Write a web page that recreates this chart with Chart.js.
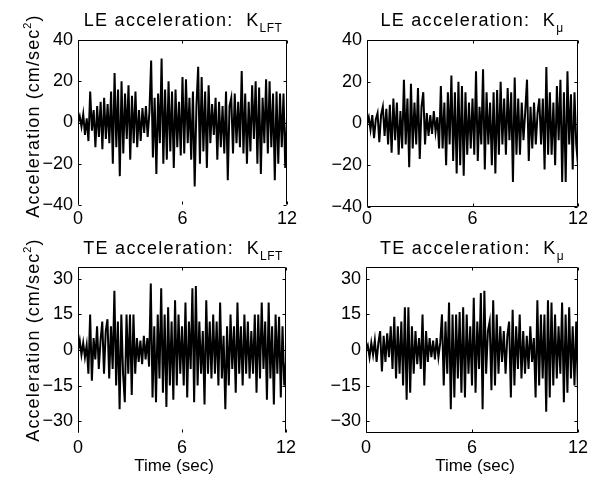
<!DOCTYPE html>
<html>
<head>
<meta charset="utf-8">
<script src="https://cdn.jsdelivr.net/npm/chart.js@4.4.0/dist/chart.umd.min.js"></script>
<style>
  body { margin: 0; background: #fff; }
  #wrap { position: relative; width: 602px; height: 478px; overflow: hidden;
          font-family: "Liberation Sans", Arial, Helvetica, sans-serif; color: #000; }
  canvas { position: absolute; }
  .ttl { position: absolute; font-size: 18px; letter-spacing: 1.3px; line-height: 20px; white-space: nowrap; transform: translateX(-50%); }
  .ttl sub { font-size: 12px; letter-spacing: 0.5px; vertical-align: -6px; line-height: 0; }
  .ylab { position: absolute; font-size: 18px; letter-spacing: 1.1px; line-height: 20px; white-space: nowrap;
          transform: translate(-50%, -50%) rotate(-90deg); }
  .ylab sup { font-size: 11px; vertical-align: 8px; line-height: 0; }
  .xlab { position: absolute; font-size: 17px; line-height: 20px; white-space: nowrap; transform: translate(-50%, -50%); }
</style>
</head>
<body>
<div id="wrap">
  <canvas id="cLeLft" width="300" height="236" style="left:0;top:0"></canvas>
  <canvas id="cLeMu" width="302" height="236" style="left:300px;top:0"></canvas>
  <canvas id="cTeLft" width="300" height="242" style="left:0;top:236px"></canvas>
  <canvas id="cTeMu" width="302" height="242" style="left:300px;top:236px"></canvas>

  <div class="ttl" style="left:183px;top:10px">LE acceleration:&nbsp; K<sub>LFT</sub></div>
  <div class="ttl" style="left:472px;top:10px">LE acceleration:&nbsp; K<sub>μ</sub></div>
  <div class="ttl" style="left:183px;top:238px">TE acceleration:&nbsp; K<sub>LFT</sub></div>
  <div class="ttl" style="left:472px;top:238px">TE acceleration:&nbsp; K<sub>μ</sub></div>

  <div class="ylab" style="left:33px;top:116px">Acceleration (cm/sec<sup>2</sup>)</div>
  <div class="ylab" style="left:33px;top:340px">Acceleration (cm/sec<sup>2</sup>)</div>

  <div class="xlab" style="left:174px;top:466px">Time (sec)</div>
  <div class="xlab" style="left:475px;top:466px">Time (sec)</div>
</div>
<script>
// ---- data: acceleration samples, one every 0.1 s from 0 to 12 s ----
const sampleStep = 0.1;
const xTicks = [0, 6, 12];
const yTicksLE = [-40, -20, 0, 20, 40];
const yTicksTE = [-30, -15, 0, 15, 30];

const leLft = [
  0, 3, -2, 4, -6, 2, -9, 15, -4, 6,
  -12, 8, -7, 10, -13, 12, -8, 9, -10, 15,
  -20, 24, -12, 16, -26, 20, -15, 14, -8, 18,
  -18, 13, -10, 15, -12, 6, -9, 7, -5, 8,
  -7, 5, 30, -17, 12, -25, 14, -10, 31, -20,
  16, -18, 20, -14, 15, -22, 16, -12, 10, -16,
  22, -15, 21, -10, 12, -18, 15, -31, 8, 27,
  -20, 22, -14, 15, -22, 18, -10, 9, -6, 12,
  -18, 10, -12, 8, -15, 15, -28, 8, 12, -15,
  14, -10, 10, -12, 25, -15, 14, -20, 10, -14,
  18, -8, 20, -20, 17, -25, 12, -10, 21, -15,
  20, -12, 14, -28, 15, -20, 14, -12, 14, -22,
  2
];
const leMu = [
  0, 3, -3, 4, -7, 2, 5, -9, 4, 8,
  -6, 7, -10, 9, -14, 12, -8, 10, -15, 6,
  -12, 21, -10, 12, -21, 19, -12, 10, -10, 17,
  -17, 8, 15, -10, 5, -6, 4, -5, 6, -4,
  3, -12, 18, -12, 10, -20, 15, -10, 23, -18,
  15, -24, 20, -20, 18, -25, 15, -15, 10, -12,
  12, -15, 25, -18, 8, -10, 26, -22, 15, -10,
  10, -20, 15, -24, 16, -15, 20, -10, 12, -15,
  17, -8, 15, -28, 22, -15, 12, -15, 10, -8,
  6, 21, -18, 8, -12, 10, -10, 5, 12, -10,
  12, -22, 27, -15, 15, -15, 10, -20, 18, -8,
  21, -28, 15, -28, 25, -10, 14, -22, 15, -10,
  -20
];
const teLft = [
  0, 4, -2, 3, -3, 2, -10, 15, -13, 5,
  -4, 10, -8, 4, 12, -10, 8, 13, -12, 10,
  -8, 25, -15, 12, -25, 15, -10, -22, 15, -10,
  15, -19, 15, -10, 5, -5, 4, -6, 6, -4,
  5, -7, 28, -20, 10, -22, 15, -12, 26, -18,
  15, -24, 18, -15, 12, -21, 21, -15, 15, -10,
  10, -15, 20, -20, 12, -8, 26, -22, 27, -15,
  12, -10, 8, -23, 21, -10, 12, -12, 15, -10,
  12, -15, 20, -12, 6, -25, 10, -15, 15, -8,
  10, -18, 20, -10, 10, -15, 15, -10, 12, -12,
  8, -10, 15, -18, 15, -12, 20, -8, 12, -21,
  20, -12, 10, -23, 15, -10, 14, -20, 10, -15,
  -5
];
const teMu = [
  0, 2, -3, 3, -2, 4, -5, 3, 8, -9,
  6, -5, 7, -3, 10, -8, 14, -12, 10, -10,
  12, -15, 18, -21, 18, -18, 10, -10, 8, -6,
  5, -8, 15, -15, 8, -5, 5, -3, 4, -4,
  5, -3, 3, 15, -15, 12, -10, 20, -25, 15,
  -20, 15, -12, 16, -18, 18, -20, 15, -10, 10,
  -15, 22, -18, 12, -8, 24, -25, 25, -10, 8,
  12, -17, 21, -15, 15, -10, 10, -5, 8, -10,
  6, 12, -20, 17, -15, 10, -8, 15, -12, 8,
  -10, 6, -8, 10, -5, 5, -20, 21, -15, 15,
  -12, 15, -26, 21, -20, 20, -15, 15, -12, 10,
  -10, 20, -22, 15, -18, 18, -12, 10, -15, 12,
  -18
];

const FONT = '"Liberation Sans", Arial, Helvetica, sans-serif';
const fmtTick = (v) => (v < 0 ? '\u2212' + Math.abs(v) : String(v));

// box round the axes with small inward tick marks, like the original plots
const boxPlugin = {
  id: 'box',
  afterDraw(chart, args, o) {
    const { ctx, chartArea: a } = chart;
    const L = Math.round(a.left) + 0.5, R = Math.round(a.right) - 0.5;
    const T = Math.round(a.top) + 0.5, B = Math.round(a.bottom) - 0.5;
    ctx.save();
    ctx.strokeStyle = '#000';
    ctx.lineWidth = 1;
    ctx.beginPath();
    ctx.moveTo(L, B); ctx.lineTo(L, T); ctx.lineTo(R, T); ctx.lineTo(R, B);
    if (o.bottomLine) ctx.lineTo(L, B);
    // inward ticks
    const xs = chart.scales.x, ys = chart.scales.y;
    xs.ticks.forEach(t => {
      const px = Math.round(xs.getPixelForValue(t.value)) + 0.5;
      ctx.moveTo(px, T); ctx.lineTo(px, T + 3);
      ctx.moveTo(px, B); ctx.lineTo(px, B - 3);
    });
    ys.ticks.forEach(t => {
      const py = Math.round(ys.getPixelForValue(t.value)) + 0.5;
      ctx.moveTo(L, py); ctx.lineTo(L + 3, py);
      ctx.moveTo(R, py); ctx.lineTo(R - 3, py);
    });
    ctx.stroke();
    ctx.restore();
  }
};

function makePanel(id, values, yTicks, yMin, yMax, g) {
  const pts = values.map((v, i) => ({ x: +(i * sampleStep).toFixed(1), y: v }));
  return new Chart(document.getElementById(id), {
    type: 'line',
    data: { datasets: [{ data: pts, borderColor: '#000', borderWidth: 2, pointRadius: 0, tension: 0 }] },
    options: {
      responsive: false, animation: false,
      layout: { padding: { top: g.top, right: g.right, left: 0, bottom: 0 } },
      plugins: { legend: { display: false }, tooltip: { enabled: false }, box: { bottomLine: g.bottomLine } },
      scales: {
        x: {
          type: 'linear', min: 0, max: 12,
          afterBuildTicks: (s) => { s.ticks = xTicks.map(v => ({ value: v })); },
          afterFit: (s) => { s.height = g.xH; },
          grid: { display: false, drawTicks: false }, border: { display: false },
          ticks: { padding: g.xPad, color: '#000', maxRotation: 0, autoSkip: false, font: { size: 18, family: FONT } }
        },
        y: {
          min: yMin, max: yMax,
          afterBuildTicks: (s) => { s.ticks = yTicks.map(v => ({ value: v })); },
          afterFit: (s) => { s.width = g.yW; },
          grid: { display: false, drawTicks: false }, border: { display: false },
          ticks: { padding: 5, color: '#000', autoSkip: false, font: { size: 18, family: FONT }, callback: fmtTick }
        }
      }
    },
    plugins: [boxPlugin]
  });
}

makePanel('cLeLft', leLft, yTicksLE, -40, 40, { top: 40, right: 13, xH: 31, yW: 78, xPad: 3, bottomLine: false });
makePanel('cLeMu', leMu, yTicksLE, -40, 40, { top: 40, right: 24, xH: 29, yW: 67, xPad: 1, bottomLine: true });
makePanel('cTeLft', teLft, yTicksTE, -35, 35, { top: 31, right: 13, xH: 45, yW: 78, xPad: 4, bottomLine: false });
makePanel('cTeMu', teMu, yTicksTE, -35, 35, { top: 31, right: 24, xH: 45, yW: 66, xPad: 4, bottomLine: true });
</script>
</body>
</html>
